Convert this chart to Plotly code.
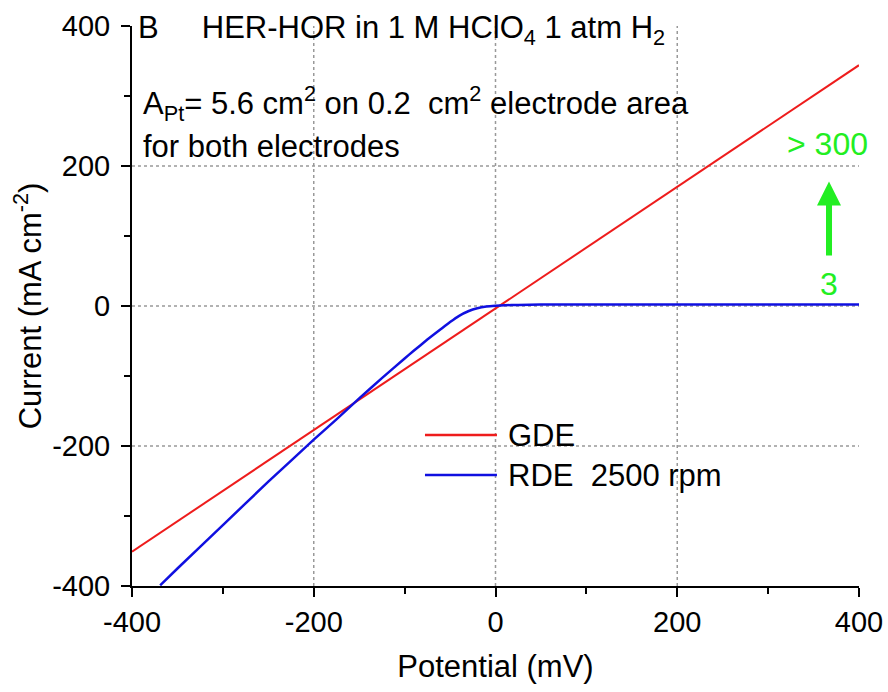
import plotly.graph_objects as go

# GDE: straight line
gde_x = [-400, 400]
gde_y = [-351, 344]

# RDE 2500 rpm
rde_x = [-369, -350, -300, -250, -200, -175, -150, -125, -100, -90, -75, -60, -50, -40, -30, -20, -10, 0, 10, 25, 50, 100, 200, 300, 400]
rde_y = [-399, -375, -313, -251, -191, -162, -132, -103, -75, -64, -48, -33, -23, -14, -7.5, -3.2, -0.8, 0.3, 1.0, 1.6, 2, 2, 2, 2, 2]

# axis ticks
tick_vals = [-400, -200, 0, 200, 400]
tick_text = ["-400", "-200", "0", "200", "400"]
minor_vals = [-300, -100, 100, 300]
grid_vals = [-200, 0, 200]

FONT = "Liberation Sans, Arial, sans-serif"
GREEN = "#22ee22"
FS = 29
FA = 31

fig = go.Figure()
fig.add_trace(go.Scatter(x=gde_x, y=gde_y, mode="lines", name="GDE",
                         line=dict(color="#ee1c1c", width=2)))
fig.add_trace(go.Scatter(x=rde_x, y=rde_y, mode="lines", name="RDE  2500 rpm",
                         line=dict(color="#1010e0", width=2.5, shape="spline", smoothing=0.4)))

shapes = []
for v in grid_vals:
    shapes.append(dict(type="line", xref="x", yref="paper", x0=v, x1=v, y0=0, y1=1,
                       line=dict(color="#999999", width=1.5, dash="dot"), layer="below"))
    shapes.append(dict(type="line", xref="paper", yref="y", x0=0, x1=1, y0=v, y1=v,
                       line=dict(color="#999999", width=1.5, dash="dot"), layer="below"))

# legend (drawn manually for long line samples)
legend_items = [("GDE", "#ee1c1c", 0.2696), ("RDE  2500 rpm", "#1010e0", 0.198)]
annotations = []
for name, col, yy in legend_items:
    shapes.append(dict(type="line", xref="paper", yref="paper", x0=0.403, x1=0.502,
                       y0=yy, y1=yy, line=dict(color=col, width=2.5)))
    annotations.append(dict(x=0.515, y=yy, xref="paper", yref="paper", xanchor="left",
                            yanchor="middle", text=name, showarrow=False,
                            font=dict(family=FONT, size=FA, color="black")))

annotations += [
    dict(x=0.006, y=0.993, xref="paper", yref="paper", xanchor="left", yanchor="middle",
         text="B     HER-HOR in 1 M HClO<sub>4</sub> 1 atm H<sub>2</sub>", showarrow=False,
         font=dict(family=FONT, size=FA, color="black")),
    dict(x=0.013, y=0.862, xref="paper", yref="paper", xanchor="left", yanchor="middle",
         text="A<sub>Pt</sub>= 5.6 cm<sup>2</sup> on 0.2  cm<sup>2</sup> electrode area", showarrow=False,
         font=dict(family=FONT, size=FA, color="black")),
    dict(x=0.013, y=0.784, xref="paper", yref="paper", xanchor="left", yanchor="middle",
         text="for both electrodes", showarrow=False,
         font=dict(family=FONT, size=FA, color="black")),
    dict(x=365, y=231, xref="x", yref="y", text="> 300", showarrow=False,
         font=dict(family=FONT, size=32, color=GREEN)),
    dict(x=367, y=32, xref="x", yref="y", text="3", showarrow=False,
         font=dict(family=FONT, size=32, color=GREEN)),
    dict(x=367, y=178, ax=367, ay=70, xref="x", yref="y", axref="x", ayref="y",
         text="", showarrow=True, arrowhead=2, arrowsize=0.8, arrowwidth=6,
         arrowcolor=GREEN),
]

axis_common = dict(showline=True, linecolor="black", linewidth=2, ticks="outside",
                   ticklen=9, tickwidth=2, tickcolor="black", showgrid=False,
                   zeroline=False, tickmode="array", tickvals=tick_vals, ticktext=tick_text,
                   range=[-400, 400], automargin=False,
                   tickfont=dict(family=FONT, size=FS, color="black"),
                   minor=dict(tickmode="array", tickvals=minor_vals, ticks="outside",
                              ticklen=6, tickwidth=2, tickcolor="black", showgrid=False))

fig.update_layout(
    width=888, height=692,
    margin=dict(l=132, r=29, t=26, b=106),
    paper_bgcolor="white", plot_bgcolor="white",
    shapes=shapes, annotations=annotations,
    xaxis=dict(**axis_common, title=dict(text="Potential (mV)", standoff=19,
                                          font=dict(family=FONT, size=FA, color="black"))),
    yaxis=dict(**axis_common, ticklabelstandoff=5,
               title=dict(text="Current (mA cm<sup>-2</sup>)", standoff=1,
                          font=dict(family=FONT, size=FA, color="black"))),
    showlegend=False,
)

fig.write_html("out.html")
